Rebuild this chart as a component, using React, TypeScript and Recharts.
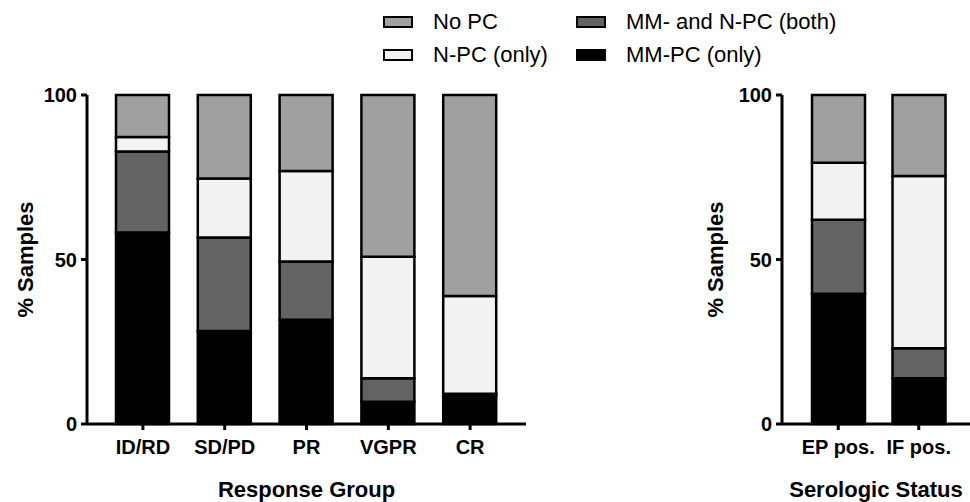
import { BarChart, Bar, XAxis, YAxis } from 'recharts'

// ── Data ─────────────────────────────────────────────────────────────────────

const responseGroups = ['ID/RD', 'SD/PD', 'PR', 'VGPR', 'CR']
const responseMmPc = [58.2, 28.3, 31.7, 6.8, 8.6]
const responseBoth = [24.6, 28.4, 17.7, 7.1, 0.6]
const responseNPc = [4.4, 17.9, 27.5, 36.9, 29.7]
const responseNoPc = [12.8, 25.4, 23.1, 49.2, 61.1]

const serologicGroups = ['EP pos.', 'IF pos.']
const serologicMmPc = [39.6, 13.9]
const serologicBoth = [22.5, 9.1]
const serologicNPc = [17.3, 52.4]
const serologicNoPc = [20.6, 24.6]

const yTicks = [0, 50, 100]

// ── Helpers ──────────────────────────────────────────────────────────────────

const FONT = '"Liberation Sans", Arial, sans-serif'

const SERIES = [
  { key: 'mmPc', name: 'MM-PC (only)', fill: '#000000' },
  { key: 'both', name: 'MM- and N-PC (both)', fill: '#636363' },
  { key: 'nPc', name: 'N-PC (only)', fill: '#f2f2f2' },
  { key: 'noPc', name: 'No PC', fill: '#a0a0a0' },
]

const responseData = responseGroups.map((g, i) => ({
  group: g,
  mmPc: responseMmPc[i],
  both: responseBoth[i],
  nPc: responseNPc[i],
  noPc: responseNoPc[i],
}))

const serologicData = serologicGroups.map((g, i) => ({
  group: g,
  mmPc: serologicMmPc[i],
  both: serologicBoth[i],
  nPc: serologicNPc[i],
  noPc: serologicNoPc[i],
}))

const TICK = { fontSize: 20, fontWeight: 700, fill: '#000', fontFamily: FONT }

function YTitle({ viewBox }: any) {
  const cy = viewBox.y + viewBox.height / 2
  return (
    <text
      x={25}
      y={cy}
      transform={`rotate(-90 25 ${cy})`}
      textAnchor="middle"
      dominantBaseline="central"
      fontSize={22}
      fontWeight={700}
      fontFamily={FONT}
      fill="#000"
    >
      % Samples
    </text>
  )
}

function XTitle({ viewBox, value }: any) {
  return (
    <text
      x={viewBox.x + viewBox.width / 2}
      y={497}
      textAnchor="middle"
      fontSize={22}
      fontWeight={700}
      fontFamily={FONT}
      fill="#000"
    >
      {value}
    </text>
  )
}

function StackedPanel({
  data,
  width,
  yWidth,
  padding,
  title,
}: {
  data: any[]
  width: number
  yWidth: number
  padding: { left: number; right: number }
  title: string
}) {
  return (
    <BarChart width={width} height={502} data={data} margin={{ top: 95, right: 0, left: 0, bottom: 0 }}>
      <XAxis
        dataKey="group"
        height={78}
        padding={padding}
        stroke="#000"
        strokeWidth={3}
        tickSize={6}
        tickMargin={10}
        tick={TICK}
        interval={0}
        label={<XTitle value={title} />}
      />
      <YAxis
        width={yWidth}
        domain={[0, 100]}
        ticks={yTicks}
        stroke="#000"
        strokeWidth={3}
        tickSize={6}
        tickMargin={4}
        tick={TICK}
        label={<YTitle />}
      />
      {SERIES.map((s) => (
        <Bar
          key={s.key}
          dataKey={s.key}
          name={s.name}
          stackId="a"
          fill={s.fill}
          stroke="#000"
          strokeWidth={2.5}
          barSize={53}
          isAnimationActive={false}
        />
      ))}
    </BarChart>
  )
}

function LegendItem({ x, y, fill, label }: { x: number; y: number; fill: string; label: string }) {
  return (
    <div style={{ position: 'absolute', left: x, top: y - 14, height: 28, display: 'flex', alignItems: 'center' }}>
      <div
        style={{
          width: 30,
          height: 12,
          boxSizing: 'border-box',
          border: '2.5px solid #000',
          background: fill,
          marginRight: 20,
        }}
      />
      <span style={{ fontSize: 22, fontFamily: FONT, color: '#000', whiteSpace: 'nowrap' }}>{label}</span>
    </div>
  )
}

// ── Component ────────────────────────────────────────────────────────────────

export default function App() {
  return (
    <div
      style={{
        position: 'absolute',
        left: 0,
        top: 0,
        width: 970,
        height: 502,
        overflow: 'hidden',
        background: '#fff',
      }}
    >
      <LegendItem x={383} y={22} fill="#a0a0a0" label="No PC" />
      <LegendItem x={383} y={55} fill="#f2f2f2" label="N-PC (only)" />
      <LegendItem x={576} y={22} fill="#636363" label="MM- and N-PC (both)" />
      <LegendItem x={576} y={55} fill="#000000" label="MM-PC (only)" />

      <div style={{ position: 'absolute', left: 0, top: 0 }}>
        <StackedPanel
          data={responseData}
          width={526}
          yWidth={87}
          padding={{ left: 15, right: 15 }}
          title="Response Group"
        />
      </div>

      <div style={{ position: 'absolute', left: 690, top: 0 }}>
        <StackedPanel
          data={serologicData}
          width={280}
          yWidth={92}
          padding={{ left: 16, right: 11 }}
          title="Serologic Status"
        />
      </div>
    </div>
  )
}
